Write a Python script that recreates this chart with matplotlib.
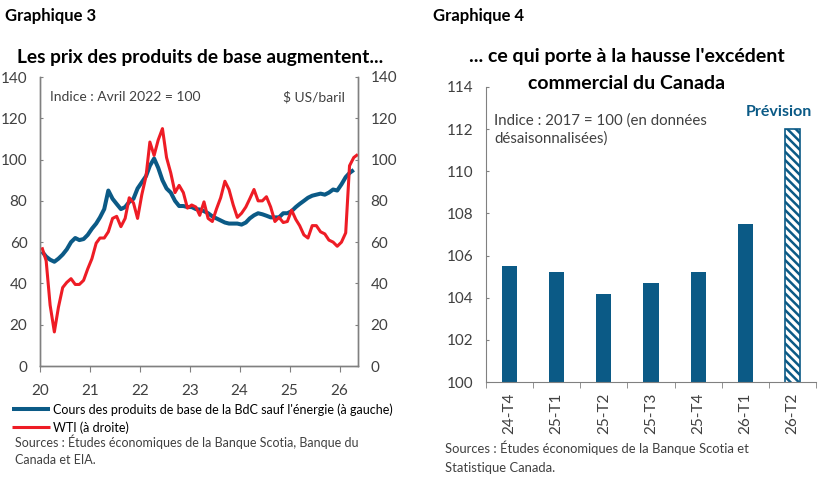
import matplotlib
matplotlib.use("Agg")
import matplotlib.pyplot as plt
import matplotlib.dates as mdates
from matplotlib.ticker import FixedLocator
import pandas as pd

# ---------------- data ----------------
# Graphique 3 : indices mensuels, janv. 2020 ->
bdc_ex_energy = [55.5, 53, 51.5, 50.5, 52, 54, 56.5, 60, 62, 61, 61.5, 63.5,
                 66.5, 69, 72, 76, 85, 81, 78.5, 76, 77, 79.5, 81, 86,
                 89, 92, 97, 100.5, 96, 90, 86, 84, 80, 77.5, 77.5, 77,
                 77, 76, 75.8, 75, 74, 72.5, 71.5, 70.5, 69.5, 69, 69, 69,
                 68.5, 69.5, 71.5, 73, 74, 73.5, 72.8, 72, 72, 72, 74, 74,
                 75, 77, 78.5, 80, 81.5, 82.5, 83, 83.5, 83, 84, 85.5, 85,
                 88, 91.5, 93.5, 95]
wti = [57.5, 51, 29.5, 16.5, 28.5, 38, 40.5, 42.3, 39.5, 39.5, 41.5, 47,
       52, 59.5, 62, 62, 65, 71.5, 72.5, 67.5, 71.5, 81.5, 79, 71.5,
       83, 92, 108.5, 102, 109.5, 115, 101, 93.5, 84, 87.5, 84, 76.5,
       78, 77, 73, 79.5, 71.5, 70, 76, 81.5, 89.5, 85.5, 78, 72,
       74, 77, 81, 85.5, 80, 80, 82, 77, 70, 72, 69.5, 70,
       75.5, 71, 68, 63.5, 62, 68, 68, 65, 64, 61, 60, 58,
       60, 64.5, 97, 101, 102.5]

# Graphique 4 : excédent commercial
quarters = ["24-T4", "25-T1", "25-T2", "25-T3", "25-T4", "26-T1", "26-T2"]
trade_index = [105.5, 105.2, 104.2, 104.7, 105.2, 107.5, 112.0]
n_forecast = 1

BLUE = "#0b5a86"
RED = "#ee1c25"
GREY = "#808080"
TXT = "#404040"

plt.rcParams["font.family"] = ["Lato", "DejaVu Sans"]
plt.rcParams["hatch.linewidth"] = 1.8

fig = plt.figure(figsize=(8.28, 4.83), dpi=100)

# ---------------- Graphique 3 ----------------
ax1 = fig.add_axes([40 / 828, 1 - 366 / 483, 318 / 828, 289 / 483])
ax1r = ax1.twinx()

d_bdc = pd.date_range("2020-01-01", periods=len(bdc_ex_energy), freq="MS") + pd.Timedelta(days=14)
d_wti = pd.date_range("2020-01-01", periods=len(wti), freq="MS") + pd.Timedelta(days=14)

l1, = ax1.plot(d_bdc, bdc_ex_energy, color=BLUE, lw=2.9, solid_capstyle="butt",
               label="Cours des produits de base de la BdC sauf l'énergie (à gauche)")
l2, = ax1r.plot(d_wti, wti, color=RED, lw=2.2, solid_capstyle="butt",
                label="WTI (à droite)")

ax1.set_xlim(pd.Timestamp("2020-01-01"), pd.Timestamp("2026-05-16"))
for a in (ax1, ax1r):
    a.set_ylim(0, 140)
    a.set_yticks(range(0, 141, 20))
    a.spines["top"].set_visible(False)
    for s in ("left", "right", "bottom"):
        a.spines[s].set_color(GREY)
        a.spines[s].set_linewidth(1)
    a.tick_params(axis="y", direction="in", length=2.5, color=GREY, pad=9,
                  labelsize=11, labelcolor=TXT)
ax1.xaxis.set_major_locator(mdates.YearLocator())
ax1.xaxis.set_major_formatter(mdates.DateFormatter("%y"))
ax1.tick_params(axis="x", direction="out", length=4, color=GREY, pad=9,
                labelsize=11, labelcolor=TXT)

ax1.text(0.03, 0.93, "Indice : Avril 2022 = 100", transform=ax1.transAxes,
         fontsize=10, color=TXT, va="center", ha="left")
ax1.text(0.96, 0.93, "$ US/baril", transform=ax1.transAxes,
         fontsize=10, color=TXT, va="center", ha="right")

fig.legend(handles=[l1, l2], loc="upper left", bbox_to_anchor=(12 / 828, 1 - 403 / 483),
           frameon=False, fontsize=9, handlelength=3.0, handletextpad=0.3,
           labelspacing=0.45, borderaxespad=0, borderpad=0)

fig.text(5 / 828, 1 - 21 / 483, "Graphique 3", fontsize=12, fontweight="bold",
         color="black", ha="left", va="baseline")
fig.text(200 / 828, 1 - 63 / 483, "Les prix des produits de base augmentent...",
         fontsize=13.8, fontweight="bold", color="black", ha="center", va="baseline")
fig.text(15 / 828, 1 - 450 / 483,
         "Sources : Études économiques de la Banque Scotia, Banque du\nCanada et EIA.",
         fontsize=9, color=TXT, ha="left", va="center", linespacing=1.5)

# ---------------- Graphique 4 ----------------
ax2 = fig.add_axes([486 / 828, 1 - 382 / 483, 330 / 828, 295 / 483])
xs = list(range(len(quarters)))
n_act = len(quarters) - n_forecast
ax2.bar(xs[:n_act], trade_index[:n_act], width=0.32, color=BLUE)
ax2.bar(xs[n_act:], trade_index[n_act:], width=0.32, facecolor="white",
        edgecolor=BLUE, hatch="\\\\\\\\", linewidth=1.2)
ax2.set_xlim(-0.5, len(quarters) - 0.5)
ax2.set_ylim(100, 114)
ax2.set_yticks(range(100, 115, 2))
ax2.set_xticks(xs)
ax2.set_xticklabels(quarters, rotation=90)
ax2.xaxis.set_minor_locator(FixedLocator([i - 0.5 for i in range(len(quarters) + 1)]))
ax2.tick_params(axis="x", which="major", length=0, pad=8, labelsize=11, labelcolor=TXT)
ax2.tick_params(axis="x", which="minor", direction="out", length=4, color=GREY)
ax2.tick_params(axis="y", direction="in", length=2.5, color=GREY, pad=9,
                labelsize=11, labelcolor=TXT)
for s in ("top", "right"):
    ax2.spines[s].set_visible(False)
for s in ("left", "bottom"):
    ax2.spines[s].set_color(GREY)

ax2.annotate("Prévision", xy=(xs[-1], trade_index[-1]), xytext=(-10, 12),
             textcoords="offset points", ha="center", va="center",
             fontsize=11.5, fontweight="bold", color=BLUE)
ax2.text(0.025, 0.91, "Indice : 2017 = 100 (en données\ndésaisonnalisées)",
         transform=ax2.transAxes, fontsize=10.8, color=TXT, ha="left", va="top",
         linespacing=1.3)

fig.text(433 / 828, 1 - 21 / 483, "Graphique 4", fontsize=12, fontweight="bold",
         color="black", ha="left", va="baseline")
fig.text(627 / 828, 1 - 62 / 483, "... ce qui porte à la hausse l'excédent",
         fontsize=14, fontweight="bold", color="black", ha="center", va="baseline")
fig.text(627 / 828, 1 - 89 / 483, "commercial du Canada",
         fontsize=14, fontweight="bold", color="black", ha="center", va="baseline")
fig.text(445 / 828, 1 - 457 / 483,
         "Sources : Études économiques de la Banque Scotia et\nStatistique Canada.",
         fontsize=9.4, color=TXT, ha="left", va="center", linespacing=1.65)

fig.savefig("out.png", dpi=100)
